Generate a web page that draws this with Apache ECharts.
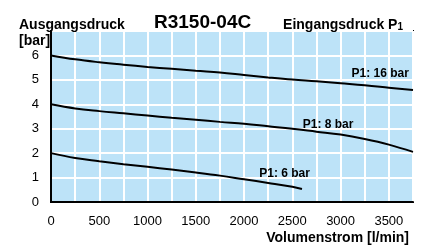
<!DOCTYPE html>
<html>
<head>
<meta charset="utf-8">
<script src="https://cdn.jsdelivr.net/npm/echarts@6/dist/echarts.min.js"></script>
<style>
  html, body { margin: 0; padding: 0; background: #fff; }
  #chart { width: 428px; height: 249px; }
</style>
</head>
<body>
<div id="chart"></div>
<script>
// Volumenstrom [l/min]
const flow16 = [0, 250, 500, 750, 1000, 1250, 1500, 1750, 2000, 2250, 2500, 2750, 3000, 3250, 3500, 3750];
const p16 = [6.0, 5.84, 5.72, 5.62, 5.53, 5.45, 5.37, 5.30, 5.20, 5.10, 5.01, 4.94, 4.86, 4.78, 4.68, 4.58];

const flow8 = [0, 250, 500, 750, 1000, 1250, 1500, 1750, 2000, 2250, 2500, 2750, 3000, 3250, 3500, 3750];
const p8 = [4.0, 3.83, 3.72, 3.63, 3.54, 3.45, 3.37, 3.28, 3.20, 3.10, 3.0, 2.88, 2.76, 2.58, 2.35, 2.05];

const flow6 = [0, 250, 500, 750, 1000, 1250, 1500, 1750, 2000, 2250, 2500, 2600];
const p6 = [2.0, 1.80, 1.67, 1.55, 1.44, 1.33, 1.21, 1.08, 0.93, 0.78, 0.62, 0.53];

const curveNames = ['P1: 16 bar', 'P1: 8 bar', 'P1: 6 bar'];
// label anchors in data units [flow, pressure]
const labelAt = [[3410, 5.24], [2870, 3.17], [2420, 1.17]];

const font = 'Liberation Sans, Arial, sans-serif';

function pairs(xs, ys) {
  return xs.map((x, i) => [x, ys[i]]);
}

const curves = [pairs(flow16, p16), pairs(flow8, p8), pairs(flow6, p6)];

const chart = echarts.init(document.getElementById('chart'));

chart.setOption({
  animation: false,
  textStyle: { fontFamily: font },
  title: [
    { text: 'R3150-04C', left: 149, top: 8,
      textStyle: { fontSize: 19, fontWeight: 'bold', color: '#000', fontFamily: font } },
    { text: 'Ausgangsdruck', left: 14, top: 13,
      textStyle: { fontSize: 14, fontWeight: 'bold', color: '#000', fontFamily: font } },
    { text: '[bar]', left: 14, top: 29,
      textStyle: { fontSize: 14, fontWeight: 'bold', color: '#000', fontFamily: font } },
    { text: 'Eingangsdruck P{s|1}', right: 20, top: 13,
      textStyle: { fontSize: 14, fontWeight: 'bold', color: '#000', fontFamily: font,
        rich: { s: { fontSize: 10, fontWeight: 'bold', color: '#000', padding: [4, 0, 0, 0] } } } },
    { text: 'Volumenstrom [l/min]', right: 14, top: 226,
      textStyle: { fontSize: 14, fontWeight: 'bold', color: '#000', fontFamily: font } }
  ],
  grid: {
    left: 51, right: 15, top: 31, bottom: 47,
    show: true, backgroundColor: '#bde3f8', borderColor: '#000', borderWidth: 2
  },
  xAxis: {
    type: 'value', min: 0, max: 3750, interval: 250,
    axisLine: { show: true, lineStyle: { color: '#000', width: 2 } },
    axisTick: { show: false },
    axisLabel: {
      margin: 13, fontSize: 13, color: '#000', fontFamily: font,
      formatter: v => (v % 500 === 0 ? String(v) : '')
    },
    splitLine: { show: true, lineStyle: { color: '#fff', width: 2 } }
  },
  yAxis: {
    type: 'value', min: 0, max: 7, interval: 1,
    axisLine: { show: true, lineStyle: { color: '#000', width: 2 } },
    axisTick: { show: false },
    axisLabel: {
      margin: 12, fontSize: 13, color: '#000', fontFamily: font,
      formatter: v => (v < 7 ? String(v) : '')
    },
    splitLine: { show: true, lineStyle: { color: '#fff', width: 2 } }
  },
  series: curves.map((d, i) => ({
    type: 'line',
    data: d,
    smooth: 0.4,
    showSymbol: false,
    lineStyle: { color: '#000', width: 2 },
    markPoint: {
      symbol: 'circle', symbolSize: 0,
      label: {
        show: true, position: 'inside', formatter: curveNames[i],
        fontSize: 12, fontWeight: 'bold', color: '#000', fontFamily: font
      },
      data: [{ coord: labelAt[i] }]
    }
  }))
});
</script>
</body>
</html>
